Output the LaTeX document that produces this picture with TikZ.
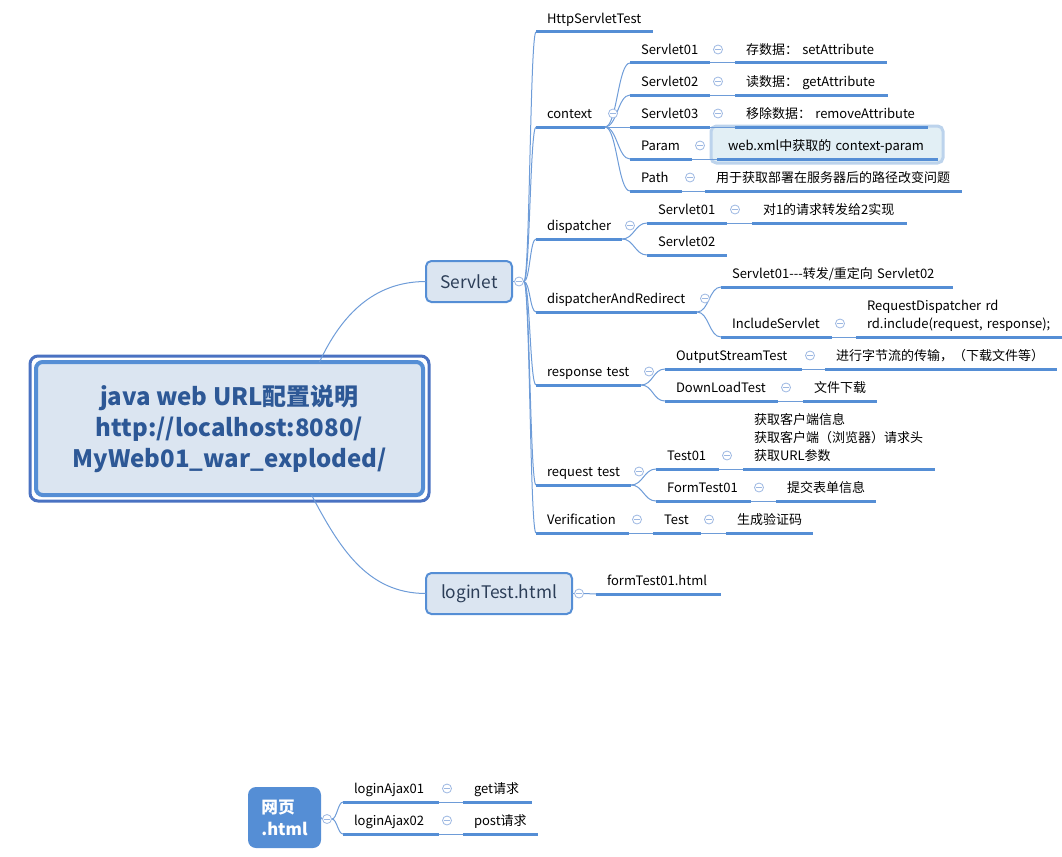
\documentclass[tikz,border=0pt]{standalone}
\usepackage{fontspec}
\setmainfont{Noto Sans CJK SC}
\usetikzlibrary{calc,backgrounds}

\definecolor{lineblue}{HTML}{558ED5}
\definecolor{linkblue}{HTML}{6E9CD8}
\definecolor{foldblue}{HTML}{9DB8E2}
\definecolor{boxfill}{HTML}{DBE5F1}
\definecolor{boxtext}{HTML}{2C3E58}
\definecolor{roottext}{HTML}{2D5896}
\definecolor{frameblue}{HTML}{4A72C2}
\definecolor{hlfill}{HTML}{E2EFF5}
\definecolor{hldraw}{HTML}{BCD3EC}

\tikzset{
  uline/.style={draw=lineblue, line width=2.25pt},
  link/.style={draw=linkblue, line width=0.75pt},
  branch/.style={to path={.. controls +(#1,0) and +(-#1,0) .. (\tikztotarget)}},
  branch/.default=12,
  topic/.style={anchor=south west, inner xsep=8.25pt, inner ysep=2.5pt, outer sep=0pt,
    align=left, font=\fontsize{9.75}{13.5}\selectfont, execute at end node=\strut},
  fold/.style={circle, draw=foldblue, fill=white, line width=0.6pt, minimum size=6.75pt, inner sep=0pt,
    path picture={\draw[foldblue, line width=0.6pt] ([xshift=-2.2pt]path picture bounding box.center) -- ([xshift=2.2pt]path picture bounding box.center);}},
  rootbox/.style={rectangle, rounded corners=5pt, draw=lineblue, line width=3pt, fill=boxfill,
    minimum width=290.25pt, minimum height=99.75pt, inner sep=0pt, outer sep=0pt, align=center,
    text=roottext, font=\bfseries\fontsize{18}{23.25}\selectfont},
  rootframe/.style={draw=frameblue, line width=2.25pt, rounded corners=6pt},
  mainbox/.style={rectangle, rounded corners=4pt, draw=lineblue, line width=1.5pt, fill=boxfill,
    minimum height=30.75pt, inner sep=0pt, outer sep=0pt, text=boxtext, font=\fontsize{13}{15}\selectfont},
  pagebox/.style={rectangle, rounded corners=6pt, fill=lineblue, minimum width=54.75pt, minimum height=45.75pt,
    inner sep=0pt, outer sep=0pt, align=left, text=white, font=\bfseries\fontsize{12.5}{16.5}\selectfont},
  hlbox/.style={rounded corners=4pt, fill=hlfill, draw=hldraw, line width=2.25pt},
}

\newcommand\topic[5]{%
  \pgfmathsetmacro\topicw{#4*0.75-16.5}%
  \node[topic, text width=\topicw pt] (#1) at (#2,#3) {#5};
  \draw[uline] (#1.south west) -- (#1.south east);}
\newcommand\fold[1]{\node[fold] (#1f) at ($(#1.south east)+(8,-13.5)$) {};}

\begin{document}
\begin{tikzpicture}[x=0.75pt,y=-0.75pt]
    \useasboundingbox (0,0) rectangle (1062,856);

    \node[rootbox] (root) at (229.5,428.5) {java web URL配置说明\\http://localhost:8080/\\MyWeb01\_war\_exploded/};
    \draw[rootframe] ($(root.south west)+(-6,6)$) rectangle ($(root.north east)+(6,-6)$);
    \node[mainbox, minimum width=64.5pt] (servlet) at (469,281.5) {Servlet};
    \node[mainbox, minimum width=109.5pt] (logintest) at (499,593.5) {loginTest.html};
    \draw[link] ($(root.north)+(90,0)$) to[out=65,in=180] (servlet.west);
    \draw[link] ($(root.south)+(82,0)$) to[out=-62,in=180] (logintest.west);

    \topic{http}{536}{32}{117}{HttpServletTest}
    \topic{context}{536}{127}{69}{context}
    \topic{ctxA}{630}{63}{80}{Servlet01}
    \topic{ctxAl}{735}{63}{152}{存数据：~setAttribute}
    \topic{ctxB}{630}{95}{80}{Servlet02}
    \topic{ctxBl}{735}{95}{153}{读数据：~getAttribute}
    \topic{ctxC}{630}{127}{80}{Servlet03}
    \topic{param}{630}{159}{62}{Param}
    \topic{paraml}{717}{159}{221}{web.xml中获取的~context-param}
    \topic{path}{630}{191}{52}{Path}
    \topic{pathl}{705}{191}{257}{用于获取部署在服务器后的路径改变问题}
    \begin{pgfonlayer}{background}
      \draw[hlbox] ($(paraml.south west)+(-6,4)$) rectangle ($(paraml.south east)+(5,-33)$);
    \end{pgfonlayer}
    \topic{ctxCl}{735}{127}{193}{移除数据：~removeAttribute}

    \topic{dispatcher}{536}{239}{86}{dispatcher}
    \topic{dspA}{647}{223}{80}{Servlet01}
    \topic{dspAl}{752}{223}{155}{对1的请求转发给2实现}
    \topic{dspB}{647}{255}{80}{Servlet02}

    \topic{redirect}{536}{312}{161}{dispatcherAndRedirect}
    \topic{rdA}{721}{287}{232}{Servlet01-{}-{}-转发/重定向~Servlet02}
    \topic{rdB}{721}{337}{111}{IncludeServlet}
    \topic{rdBl}{856}{337}{206}{RequestDispatcher~rd\\rd.include(request,~response);}

    \topic{response}{536}{385}{105}{response~test}
    \topic{rsA}{665}{369}{137}{OutputStreamTest}
    \topic{rsAl}{825}{369}{232}{进行字节流的传输，（下载文件等）}
    \topic{rsB}{665}{401}{113}{DownLoadTest}
    \topic{rsBl}{803}{401}{74}{文件下载}

    \topic{request}{536}{485}{95}{request~test}
    \topic{rqA}{656}{469}{63}{Test01}
    \topic{rqAl}{743}{469}{192}{获取客户端信息\\获取客户端（浏览器）请求头\\获取URL参数}
    \topic{rqB}{656}{501}{95}{FormTest01}
    \topic{rqBl}{776}{501}{100}{提交表单信息}

    \topic{verify}{536}{533}{93}{Verification}
    \topic{vfA}{653}{533}{48}{Test}
    \topic{vfAl}{726}{533}{87}{生成验证码}

    \topic{form}{596}{594}{125}{formTest01.html}

    \node[pagebox] (page) at (284.5,817.5) {网页\\.html};
    \topic{ajaxA}{343}{802}{96}{loginAjax01}
    \topic{ajaxAl}{463}{802}{69}{get请求}
    \topic{ajaxB}{343}{834}{96}{loginAjax02}
    \topic{ajaxBl}{463}{834}{75}{post请求}

    \node[fold] (servletf) at ($(servlet.east)+(7,0)$) {};
    \node[fold] (logintestf) at ($(logintest.east)+(7,0)$) {};
    \node[fold] (pagef) at ($(page.east)+(6,1.5)$) {};
    \draw[link] (servlet.east) -- (servletf.west);
    \draw[link] (logintest.east) -- (logintestf.west);
    \draw[link] (page.east) -- (pagef.west);
    \foreach \ch in {http,context,dispatcher,redirect,response,request,verify}
        \draw[link] (servletf.east) to[branch=6] (\ch.south west);
    \draw[link] (logintestf.east) -- (form.south west);
    \foreach \ch in {ajaxA,ajaxB}
        \draw[link] (pagef.east) to[branch=5] (\ch.south west);

    \foreach \ch in {ctxA,ctxB,ctxC,param,path}
        \draw[link] (context.south east) to[branch] (\ch.south west);
    \foreach \ch in {dspA,dspB}
        \draw[link] (dispatcher.south east) to[branch] (\ch.south west);
    \foreach \ch in {rdA,rdB}
        \draw[link] (redirect.south east) to[branch] (\ch.south west);
    \foreach \ch in {rsA,rsB}
        \draw[link] (response.south east) to[branch] (\ch.south west);
    \foreach \ch in {rqA,rqB}
        \draw[link] (request.south east) to[branch] (\ch.south west);
    \draw[link] (verify.south east) -- (vfA.south west);
    \foreach \p/\l in {ctxA/ctxAl,ctxB/ctxBl,ctxC/ctxCl,param/paraml,path/pathl,dspA/dspAl,rdB/rdBl,
                       rsA/rsAl,rsB/rsBl,rqA/rqAl,rqB/rqBl,vfA/vfAl,ajaxA/ajaxAl,ajaxB/ajaxBl}
        \draw[link] (\p.south east) -- (\l.south west);

    \foreach \p in {context,ctxA,ctxB,ctxC,param,path,dispatcher,dspA,redirect,rdB,
                    response,rsA,rsB,request,rqA,rqB,verify,vfA,ajaxA,ajaxB}
        {\fold{\p}}
\end{tikzpicture}
\end{document}
